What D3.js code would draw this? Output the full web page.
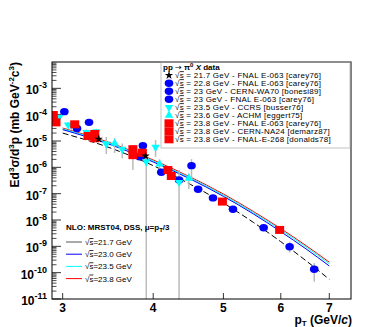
<!DOCTYPE html>
<html>
<head>
<meta charset="utf-8">
<script src="https://cdn.jsdelivr.net/npm/d3@7"></script>
<style>
  body { margin: 0; background: #fff; }
  svg { font-family: "Liberation Sans", Arial, sans-serif; }
</style>
</head>
<body>
<script>
// data: [pT, value, errHigh, errLow]  (errLow 0 -> bar runs off the bottom)
var star217 = [[3.364, 1.19e-5, 1.45e-5, 9.5e-6], [3.904, 2.7e-6, 3.2e-6, 2.2e-6]];
var circ228 = [[2.928, 7.3e-5, 8.6e-5, 6.2e-5], [3.140, 3.0e-5, 3.6e-5, 2.5e-5], [3.871, 6.6e-6, 7.8e-6, 5.5e-6]];
var circ23wa70 = [[3.016, 1.3e-4, 1.55e-4, 1.08e-4], [3.262, 5.1e-5, 6.0e-5, 4.3e-5],
  [4.104, 6.5e-7, 7.6e-7, 5.5e-7], [4.343, 3.3e-7, 3.9e-7, 2.8e-7], [4.614, 1.47e-7, 1.75e-7, 1.25e-7],
  [4.837, 6.9e-8, 8.2e-8, 5.8e-8], [5.154, 2.55e-8, 3.0e-8, 2.15e-8], [5.682, 5.1e-9, 6.1e-9, 4.3e-9],
  [6.171, 9.7e-10, 1.5e-9, 5.8e-10], [6.673, 1.34e-10, 2.35e-10, 4.5e-11]];
var circ23e063 = [[3.831, 2.5e-6, 3.0e-6, 2.1e-6], [4.518, 1.16e-6, 2.05e-6, 3.3e-7]];
var tri235 = [[2.967, 7.8e-5, 9.5e-5, 6.3e-5], [3.052, 4.1e-5, 5.2e-5, 3.2e-5], [3.085, 4.0e-5, 5.0e-5, 3.0e-5],
  [3.236, 2.1e-5, 2.8e-5, 1.5e-5], [3.339, 2.26e-5, 2.9e-5, 1.7e-5], [3.446, 7.7e-6, 1.42e-5, 3.2e-6],
  [3.625, 4.9e-6, 8.0e-6, 2.2e-6], [3.913, 1.64e-6, 4.6e-6, 0], [4.030, 5.8e-6, 1.1e-5, 2.5e-6],
  [4.343, 2.7e-7, 8.0e-7, 0]];
var tri236 = [[3.539, 8.2e-6, 1.3e-5, 3.5e-6], [4.082, 1.34e-6, 2.0e-6, 7.0e-7], [4.480, 3.8e-7, 6.0e-7, 1.5e-7]];
var sq238e063 = [[3.117, 4.3e-5, 5.0e-5, 3.6e-5], [3.252, 1.55e-5, 1.85e-5, 1.3e-5],
  [3.322, 1.85e-5, 2.2e-5, 1.55e-5], [3.750, 4.9e-6, 6.0e-6, 7.9e-7]];
var sq238na24 = [[2.912, 9.7e-5, 1.12e-4, 8.2e-5], [2.937, 5.1e-5, 6.0e-5, 4.3e-5],
  [3.322, 1.27e-5, 1.5e-5, 1.05e-5], [3.750, 2.9e-6, 3.5e-6, 2.4e-6], [3.864, 3.6e-6, 4.3e-6, 3.0e-6]];
var sq238e268 = [[4.191, 7.9e-7, 9.4e-7, 6.6e-7], [4.237, 4.7e-7, 5.6e-7, 3.9e-7],
  [4.984, 5.0e-8, 5.9e-8, 4.2e-8], [5.978, 4.2e-9, 5.0e-9, 3.5e-9]];

// NLO curves
var nloPt = [3, 3.5, 4, 4.5, 5, 5.5, 6, 6.5, 7];
var nlo217 = [2.0e-5, 5.3e-6, 1.16e-6, 2.27e-7, 4.4e-8, 8.1e-9, 1.5e-9, 2.85e-10, 5.6e-11];
var nlo230 = [2.7e-5, 7.1e-6, 1.6e-6, 3.6e-7, 7.9e-8, 1.7e-8, 3.6e-9, 8.0e-10, 1.8e-10];
var nlo235 = [2.9e-5, 7.7e-6, 1.75e-6, 3.95e-7, 8.8e-8, 1.9e-8, 4.2e-9, 9.5e-10, 2.2e-10];
var nlo238 = [3.1e-5, 8.3e-6, 1.9e-6, 4.3e-7, 9.7e-8, 2.1e-8, 4.7e-9, 1.07e-9, 2.5e-10];

var xTicks = [3, 4, 5, 6, 7];
var yExps = [-11, -10, -9, -8, -7, -6, -5, -4, -3];

var dataLegend = [
  {rs: "21.7 GeV - FNAL E-063 [carey76]", shape: "star", color: "#000"},
  {rs: "22.8 GeV - FNAL E-063 [carey76]", shape: "circle", color: "#0000ff"},
  {rs: "23 GeV - CERN-WA70 [bonesi89]", shape: "circle", color: "#0000ff"},
  {rs: "23 GeV - FNAL E-063 [carey76]", shape: "circle", color: "#0000ff"},
  {rs: "23.5 GeV - CCRS [busser76]", shape: "down", color: "#00ffff"},
  {rs: "23.6 GeV -  ACHM [eggert75]", shape: "up", color: "#00ffff"},
  {rs: "23.8 GeV - FNAL E-063 [carey76]", shape: "square", color: "#ff0000"},
  {rs: "23.8 GeV - CERN-NA24 [demarz87]", shape: "square", color: "#ff0000"},
  {rs: "23.8 GeV - FNAL-E-268 [donalds78]", shape: "square", color: "#ff0000"}
];

var W = 382, H = 327;
var pL = 52, pR = 351, pT = 62, pB = 299;

var x = d3.scaleLog().domain([2.9, 7.5]).range([pL, pR]);
var y = d3.scaleLog().domain([1e-11, 1e-2]).range([pB, pT]);

var svg = d3.select("body").append("svg")
  .attr("width", W).attr("height", H);

svg.append("defs").append("clipPath").attr("id", "clip")
  .append("rect").attr("x", pL).attr("y", pT)
  .attr("width", pR - pL).attr("height", pB - pT);

// y axis ticks
var minor = [];
yExps.forEach(function(e) {
  for (var m = 2; m <= 9; m++) minor.push(m * Math.pow(10, e));
});
svg.selectAll(".ymin").data(minor).enter().append("line")
  .attr("x1", pL).attr("x2", pL + 4.5)
  .attr("y1", d => y(d)).attr("y2", d => y(d))
  .attr("stroke", "#000").attr("stroke-width", 0.7);
svg.selectAll(".ymaj").data(yExps).enter().append("line")
  .attr("x1", pL).attr("x2", pL + 9)
  .attr("y1", d => y(Math.pow(10, d))).attr("y2", d => y(Math.pow(10, d)))
  .attr("stroke", "#000").attr("stroke-width", 0.8);

var ylab = svg.selectAll(".ylab").data(yExps).enter().append("text")
  .attr("x", 47).attr("y", d => y(Math.pow(10, d)) + 6)
  .attr("text-anchor", "end")
  .attr("font-size", 12).attr("font-weight", "bold");
ylab.append("tspan").text("10");
ylab.append("tspan").attr("dy", -6).attr("font-size", 9).text(d => "-" + (-d));

// x axis ticks
svg.selectAll(".xt").data(xTicks).enter().append("line")
  .attr("x1", d => x(d)).attr("x2", d => x(d))
  .attr("y1", pB).attr("y2", pB - 6)
  .attr("stroke", "#000").attr("stroke-width", 0.8);
svg.selectAll(".xl").data(xTicks).enter().append("text")
  .attr("x", d => x(d)).attr("y", 312)
  .attr("text-anchor", "middle")
  .attr("font-size", 12).attr("font-weight", "bold")
  .text(d => d);

// NLO curves
var plot = svg.append("g").attr("clip-path", "url(#clip)");
var line = d3.line()
  .x((d, i) => x(nloPt[i]))
  .y(d => y(d))
  .curve(d3.curveMonotoneX);

var curves = [
  {vals: nlo238, color: "#ff0000", dash: null},
  {vals: nlo235, color: "#00ffff", dash: null},
  {vals: nlo230, color: "#0000ff", dash: null},
  {vals: nlo217, color: "#000", dash: "6,3"}
];
curves.forEach(function(c) {
  plot.append("path").attr("d", line(c.vals))
    .attr("fill", "none").attr("stroke", c.color)
    .attr("stroke-width", 1)
    .attr("stroke-dasharray", c.dash);
});

// error bars
var allSets = [star217, circ228, circ23wa70, circ23e063, tri235, tri236, sq238e063, sq238na24, sq238e268];
allSets.forEach(function(set) {
  plot.selectAll(null).data(set).enter().append("line")
    .attr("x1", d => x(d[0])).attr("x2", d => x(d[0]))
    .attr("y1", d => y(d[2]))
    .attr("y2", d => d[3] > 0 ? y(d[3]) : pB)
    .attr("stroke", "#bbb").attr("stroke-width", 1.5);
});

// markers
function marker(g, shape, color, cx, cy) {
  if (shape === "circle") {
    g.append("ellipse").attr("cx", cx).attr("cy", cy).attr("rx", 4.3).attr("ry", 3.7)
      .attr("fill", color);
  } else if (shape === "square") {
    g.append("rect").attr("x", cx - 4.5).attr("y", cy - 4).attr("width", 9).attr("height", 8)
      .attr("fill", color);
  } else if (shape === "down" || shape === "up") {
    g.append("path").attr("d", d3.symbol().type(d3.symbolTriangle).size(30)())
      .attr("transform", "translate(" + cx + "," + cy + ")" + (shape === "down" ? " rotate(180)" : ""))
      .attr("fill", color);
  } else {
    g.append("path").attr("d", d3.symbol().type(d3.symbolStar).size(22)())
      .attr("transform", "translate(" + cx + "," + cy + ")")
      .attr("fill", color);
  }
}
var markSets = [
  [circ228, "circle", "#0000ff"], [circ23wa70, "circle", "#0000ff"], [circ23e063, "circle", "#0000ff"],
  [tri235, "down", "#00ffff"], [tri236, "up", "#00ffff"],
  [sq238e063, "square", "#ff0000"], [sq238na24, "square", "#ff0000"], [sq238e268, "square", "#ff0000"],
  [star217, "star", "#000"]
];
markSets.forEach(function(ms) {
  ms[0].forEach(function(d) { marker(plot, ms[1], ms[2], x(d[0]), y(d[1])); });
});

// frame
svg.append("rect").attr("x", pL).attr("y", pT)
  .attr("width", pR - pL).attr("height", pB - pT)
  .attr("fill", "none").attr("stroke", "#000").attr("stroke-width", 1);

// data legend
var lg = svg.append("g");
lg.append("rect").attr("x", 161).attr("y", 62).attr("width", 189).attr("height", 86)
  .attr("fill", "none").attr("stroke", "#aaa").attr("stroke-width", 0.7);
var lt = lg.append("text").attr("x", 163).attr("y", 69.5)
  .attr("font-size", 8).attr("font-weight", "bold");
lt.append("tspan").text("pp ");
lt.append("tspan").attr("font-family", "DejaVu Sans").attr("font-weight", "normal").text("\u2192");
lt.append("tspan").text(" \u03c0");
lt.append("tspan").attr("dy", -3).attr("font-size", 6).text("0");
lt.append("tspan").attr("dy", 3).text(" ");
lt.append("tspan").attr("font-style", "italic").text("X");
lt.append("tspan").text(" data");

dataLegend.forEach(function(d, i) {
  var cy = 75.3 + i * 8.0;
  marker(lg, d.shape, d.color, 169, cy);
  var t = lg.append("text").attr("x", 175).attr("y", cy + 3)
    .attr("font-size", 8).attr("letter-spacing", 0.25);
  t.append("tspan").text("\u221a");
  t.append("tspan").style("text-decoration", "overline").text("s");
  t.append("tspan").text(" = " + d.rs);
});

// NLO legend
var ng = svg.append("g");
var nt = ng.append("text").attr("x", 66).attr("y", 230)
  .attr("font-size", 8).attr("font-weight", "bold");
nt.append("tspan").text("NLO: MRST04, DSS, \u03bc=p");
nt.append("tspan").attr("dy", 2).attr("font-size", 6).text("T");
nt.append("tspan").attr("dy", -2).text("/3");

var nloLegend = [["21.7", "#555"], ["23.0", "#0000ff"], ["23.5", "#00ffff"], ["23.8", "#ff0000"]];
nloLegend.forEach(function(d, i) {
  var cy = 242 + i * 12.2;
  ng.append("line").attr("x1", 66).attr("x2", 82).attr("y1", cy).attr("y2", cy)
    .attr("stroke", d[1]).attr("stroke-width", 1);
  var t = ng.append("text").attr("x", 85).attr("y", cy + 3).attr("font-size", 8);
  t.append("tspan").text("\u221a");
  t.append("tspan").style("text-decoration", "overline").text("s");
  t.append("tspan").text("=" + d[0] + " GeV");
});

// axis titles
var yt = svg.append("text")
  .attr("transform", "translate(19," + pT + ") rotate(-90)")
  .attr("text-anchor", "end")
  .attr("font-size", 12).attr("font-weight", "bold");
yt.append("tspan").text("Ed");
yt.append("tspan").attr("dy", -5).attr("font-size", 8).text("3");
yt.append("tspan").attr("dy", 5).text("\u03c3/d");
yt.append("tspan").attr("dy", -5).attr("font-size", 8).text("3");
yt.append("tspan").attr("dy", 5).text("p (mb GeV");
yt.append("tspan").attr("dy", -5).attr("font-size", 8).text("-2");
yt.append("tspan").attr("dy", 5).text("c");
yt.append("tspan").attr("dy", -5).attr("font-size", 8).text("3");
yt.append("tspan").attr("dy", 5).text(")");

var xt = svg.append("text").attr("x", 352).attr("y", 324)
  .attr("text-anchor", "end")
  .attr("font-size", 12).attr("font-weight", "bold");
xt.append("tspan").text("p");
xt.append("tspan").attr("dy", 2).attr("font-size", 8).text("T");
xt.append("tspan").attr("dy", -2).text(" (GeV/");
xt.append("tspan").attr("font-style", "italic").text("c");
xt.append("tspan").text(")");
</script>
</body>
</html>
